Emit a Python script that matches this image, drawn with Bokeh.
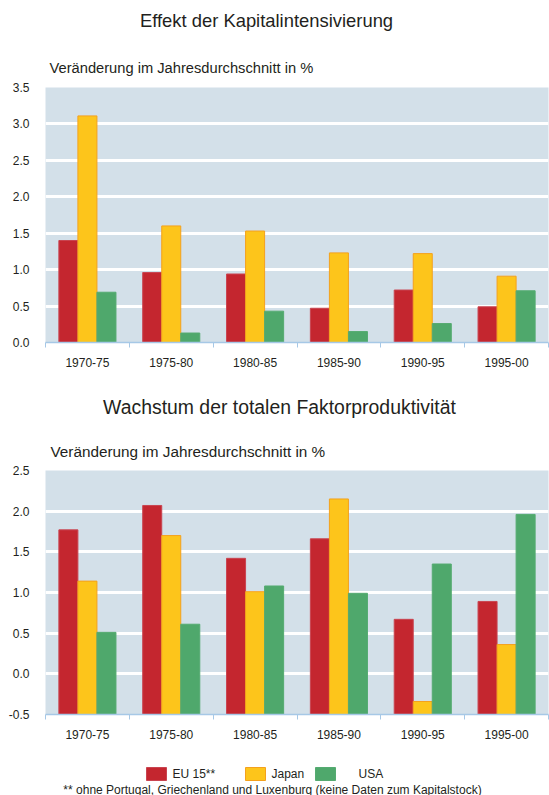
import numpy as np
from bokeh.plotting import figure
from bokeh.models import Range1d, FixedTicker, NumeralTickFormatter
from bokeh.layouts import column
from bokeh.embed import file_html
from bokeh.resources import INLINE
from bokeh.core.properties import value

# ---- data ----
periods = ["1970-75", "1975-80", "1980-85", "1985-90", "1990-95", "1995-00"]
series = ["EU 15**", "Japan", "USA"]

kap_eu = [1.40, 0.96, 0.94, 0.47, 0.72, 0.49]
kap_jp = [3.11, 1.60, 1.53, 1.23, 1.22, 0.91]
kap_us = [0.69, 0.13, 0.43, 0.15, 0.26, 0.71]

tfp_eu = [1.77, 2.07, 1.42, 1.66, 0.67, 0.89]
tfp_jp = [1.14, 1.70, 1.01, 2.15, -0.34, 0.36]
tfp_us = [0.51, 0.61, 1.08, 0.99, 1.35, 1.96]

kap_ticks = [0.0, 0.5, 1.0, 1.5, 2.0, 2.5, 3.0, 3.5]
tfp_ticks = [-0.5, 0.0, 0.5, 1.0, 1.5, 2.0, 2.5]

title1 = "Effekt der Kapitalintensivierung"
title2 = "Wachstum der totalen Faktorproduktivität"
subtitle = "Veränderung im Jahresdurchschnitt in %"
footnote = "** ohne Portugal, Griechenland und Luxenburg (keine Daten zum Kapitalstock)"

# ---- style ----
FONT = "Liberation Sans"
TXT = "#231f20"
BG = "#d3e0e9"
AXIS = "#a6c8e6"
fills = ["#c4262f", "#fdc51b", "#4fa86c"]
lines = ["#c94450", "#f4a11d", "#55ab71"]
BAR_W = 0.227
W = 549
BL, BR = 45, 1          # left / right borders shared by all panels
FX0, FX1 = BL, W - BR   # x of the frame in panel pixels


def text_panel(top, bottom):
    # panel whose data coordinates equal pixel coordinates of the whole page
    p = figure(width=W, height=bottom - top, x_range=Range1d(FX0, FX1),
               y_range=Range1d(bottom, top),
               output_backend="svg", toolbar_location=None, x_axis_type=None,
               y_axis_type=None, min_border_left=BL, min_border_right=BR,
               min_border_top=0, min_border_bottom=0, outline_line_color=None,
               background_fill_color="white", border_fill_color="white")
    p.xgrid.grid_line_color = None
    p.ygrid.grid_line_color = None
    return p


def header(top, bottom, title, title_xy, sub_xy, tsize, ssize):
    p = text_panel(top, bottom)
    p.text(x=[title_xy[0]], y=[title_xy[1]], text=[title], text_font=value(FONT),
           text_font_size=tsize, text_color=TXT, text_align="center",
           text_baseline="middle")
    p.text(x=[sub_xy[0]], y=[sub_xy[1]], text=[subtitle], text_font=value(FONT),
           text_font_size=ssize, text_color=TXT, text_align="left",
           text_baseline="middle")
    return p


def make_chart(vals, ticks, height, border_top, border_bottom):
    ylo, yhi = ticks[0], ticks[-1]
    n = len(periods)
    p = figure(width=W, height=height,
               x_range=Range1d(0, n), y_range=Range1d(ylo, yhi),
               output_backend="svg", toolbar_location=None,
               min_border_left=BL, min_border_right=BR,
               min_border_top=border_top, min_border_bottom=border_bottom,
               background_fill_color=BG, border_fill_color="white",
               outline_line_color=None)
    centers = np.arange(n) + 0.5
    offsets = [-BAR_W, 0.0, BAR_W]
    for k in range(len(series)):
        p.vbar(x=centers + offsets[k], top=vals[k], bottom=ylo, width=BAR_W,
               fill_color=fills[k], line_color=lines[k], line_width=1)

    xa = p.xaxis[0]
    xa.ticker = FixedTicker(ticks=list(centers), minor_ticks=list(range(n + 1)))
    xa.major_label_overrides = {float(c): lab for c, lab in zip(centers, periods)}
    xa.major_tick_line_color = None
    xa.major_tick_out = 0
    xa.major_tick_in = 0
    xa.minor_tick_line_color = AXIS
    xa.minor_tick_out = 5
    xa.minor_tick_in = 0
    xa.axis_line_color = AXIS
    xa.axis_line_width = 1.5
    xa.major_label_standoff = 10
    xa.major_label_text_font = FONT
    xa.major_label_text_font_size = "12px"
    xa.major_label_text_color = TXT

    ya = p.yaxis[0]
    ya.ticker = FixedTicker(ticks=ticks)
    ya.formatter = NumeralTickFormatter(format="0.0")
    ya.axis_line_color = None
    ya.major_tick_line_color = None
    ya.minor_tick_line_color = None
    ya.major_label_standoff = 10
    ya.major_label_text_font = FONT
    ya.major_label_text_font_size = "12px"
    ya.major_label_text_color = TXT

    p.xgrid.grid_line_color = None
    p.ygrid.ticker = FixedTicker(ticks=ticks)
    p.ygrid.grid_line_color = "white"
    p.ygrid.grid_line_width = 3
    return p


# page layout (y in page pixels)
h1 = header(0, 79, title1, (266, 20), (49, 67), "18.4px", "14.7px")
c1 = make_chart([kap_eu, kap_jp, kap_us], kap_ticks, 293, 8, 30)      # 79..372
h2 = header(372, 462, title2, (279, 406), (50, 451), "19.4px", "15.3px")
c2 = make_chart([tfp_eu, tfp_jp, tfp_us], tfp_ticks, 283, 8, 31)      # 462..745

pl = text_panel(745, 795)
sw_x = [156, 255, 325]
lab_x = [172, 271, 358]
pl.rect(x=sw_x, y=773.5, width=20, height=13, fill_color=fills, line_color=lines)
pl.text(x=lab_x, y=773, text=series, text_font=value(FONT), text_font_size="12px",
        text_color=TXT, text_baseline="middle", text_align="left")
pl.text(x=[272], y=[789], text=[footnote], text_font=value(FONT), text_font_size="12px",
        text_color=TXT, text_baseline="middle", text_align="center")

layout = column(h1, c1, h2, c2, pl)
open("out.html", "w").write(file_html(layout, INLINE))
